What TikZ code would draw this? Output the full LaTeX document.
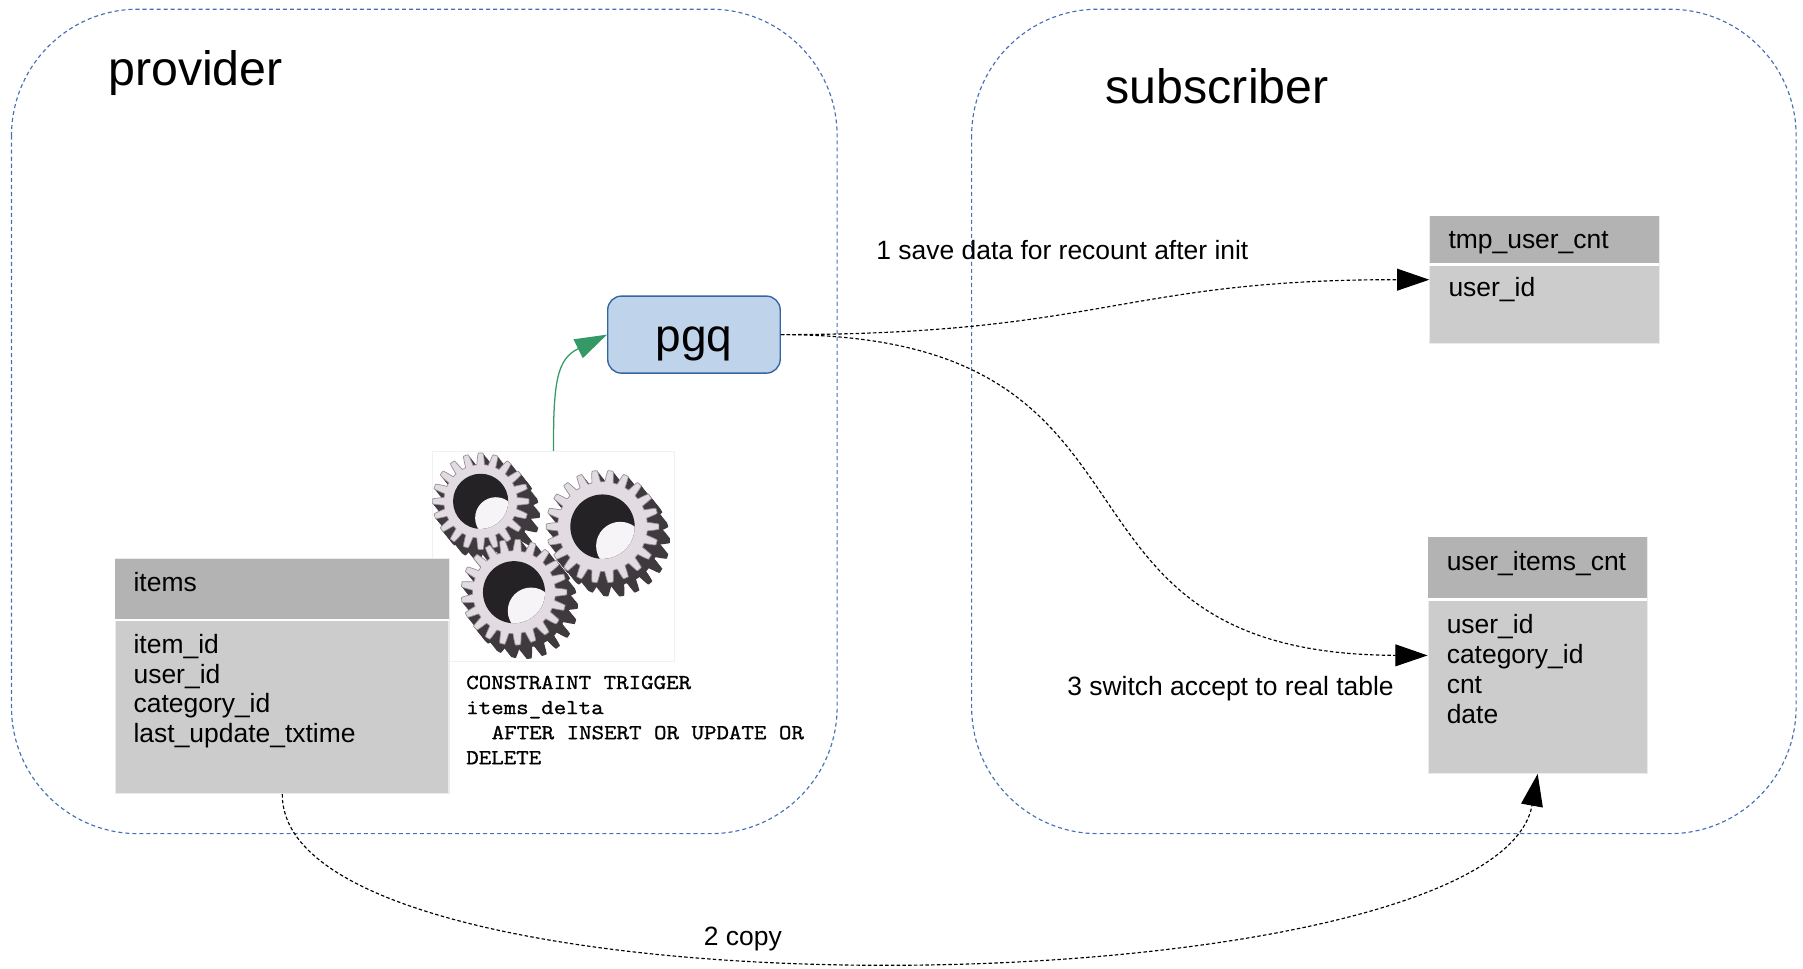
\documentclass[tikz,border=0pt]{standalone}
\usepackage{fontspec}
\setmainfont{Liberation Sans}
\newfontfamily\codefont{Latin Modern Mono}[FakeStretch=1.14,FakeBold=1.2]
\usetikzlibrary{arrows.meta}
\definecolor{boxblue}{RGB}{70,112,182}
\definecolor{pgqfill}{RGB}{191,212,234}
\definecolor{pgqline}{RGB}{52,101,164}
\definecolor{hdrgray}{RGB}{179,179,179}
\definecolor{bodygray}{RGB}{204,204,204}
\definecolor{arrgreen}{RGB}{52,153,102}
\definecolor{gearface}{RGB}{226,219,226}
\definecolor{gearedge}{RGB}{150,144,150}
\definecolor{geardark}{RGB}{62,58,62}
\definecolor{holedark}{RGB}{36,34,36}
\definecolor{holelight}{RGB}{246,244,246}
\tikzset{
  region/.style={draw=boxblue, line width=1pt, dash pattern=on 3.5pt off 2.6pt, rounded corners=110pt},
  tablebox/.style={fill=bodygray, draw=black!8, line width=1pt, inner sep=0pt, anchor=north west},
  tablehead/.style={fill=hdrgray, inner sep=0pt, anchor=north west},
  cell/.style={inner sep=0pt, anchor=base west, font=\fontsize{23}{26}\selectfont},
  bigtitle/.style={inner sep=0pt, anchor=base west, font=\fontsize{42}{50}\selectfont},
  codeline/.style={inner sep=0pt, anchor=base west, font=\codefont\fontsize{18.5}{22}\selectfont},
  flow/.style={draw=black, line width=1pt, dash pattern=on 3pt off 2pt, -{Triangle[length=28pt,width=19pt]}},
  greenflow/.style={draw=arrgreen, line width=1.1pt, -{Triangle[length=28pt,width=18pt]}, arrgreen},
}
\newcommand\drawgear[5]{%
  \foreach \k in {12,11,...,1}
    \fill[geardark, shift={(#1+\k*0.8,#2+\k*1.0)}] plot[domain=0:360,samples=541] (\x:{#3+5*max(-1,min(1,2*cos(#4*\x)))}) -- cycle;
  \filldraw[fill=gearface, draw=gearedge, line width=0.6pt, shift={(#1,#2)}] plot[domain=0:360,samples=541] (\x:{#3+5*max(-1,min(1,2*cos(#4*\x)))}) -- cycle;
  \fill[holedark] (#1,#2) circle[radius=#5];
  \begin{scope}
    \clip (#1,#2) circle[radius=#5];
    \fill[holelight] (#1+0.55*#5,#2+0.6*#5) circle[radius=0.75*#5];
  \end{scope}
}
\begin{document}
\begin{tikzpicture}[x=1pt,y=-1pt]
\useasboundingbox (0,0) rectangle (1568,842.7);

% regions
\draw[region] (10,8) rectangle (728,725);
\draw[region] (845,8) rectangle (1562,725);
\node[bigtitle] (provtitle) at (94,74) {provider};
\node[bigtitle] (subtitle) at (961.5,90) {subscriber};

% gears image
\node[draw=black!6, line width=0.8pt, minimum width=210pt, minimum height=183pt, inner sep=0pt, anchor=north west] (gears) at (376,392) {};
\drawgear{524}{458}{44}{22}{28}
\drawgear{418}{436}{37}{20}{24}
\drawgear{447}{515}{41}{21}{27}

% pgq
\node[fill=pgqfill, draw=pgqline, line width=1.2pt, rounded corners=12pt, minimum width=150pt, minimum height=67pt, inner sep=0pt, text height=29pt, text depth=0pt, font=\fontsize{40}{48}\selectfont] (pgq) at (603.5,291) {pgq};

% items table
\node[tablebox, minimum width=290pt, minimum height=204pt] (items) at (100,485.6) {};
\node[tablehead, minimum width=290pt, minimum height=53pt] (itemsH) at (100,485.6) {};
\draw[white, line width=2pt] (itemsH.south west) -- (itemsH.south east);
\node[cell] (itemsT) at (116,514.6) {items};
\node[cell] (items1) at (116,568) {item\_id};
\node[cell] (items2) at (116,594) {user\_id};
\node[cell] (items3) at (116,620) {category\_id};
\node[cell] (items4) at (116,646) {last\_update\_txtime};

% trigger text
\node[codeline] (code1) at (405.3,599.2) {CONSTRAINT TRIGGER};
\node[codeline] (code2) at (405.3,621) {items\_delta};
\node[codeline] (code3) at (427.4,642.8) {AFTER INSERT OR UPDATE OR};
\node[codeline] (code4) at (405.3,664.6) {DELETE};

% tmp_user_cnt table
\node[tablebox, minimum width=199.5pt, minimum height=110.5pt] (tmp) at (1243,187.5) {};
\node[tablehead, minimum width=199.5pt, minimum height=42pt] (tmpH) at (1243,187.5) {};
\draw[white, line width=2pt] (tmpH.south west) -- (tmpH.south east);
\node[cell] (tmpT) at (1259.5,216) {tmp\_user\_cnt};
\node[cell] (tmp1) at (1259.5,258) {user\_id};

% user_items_cnt table
\node[tablebox, minimum width=190.5pt, minimum height=205pt] (uic) at (1241.5,467) {};
\node[tablehead, minimum width=190.5pt, minimum height=54pt] (uicH) at (1241.5,467) {};
\draw[white, line width=2pt] (uicH.south west) -- (uicH.south east);
\node[cell] (uicT) at (1258,496.3) {user\_items\_cnt};
\node[cell] (uic1) at (1258,551) {user\_id};
\node[cell] (uic2) at (1258,577) {category\_id};
\node[cell] (uic3) at (1258,603) {cnt};
\node[cell] (uic4) at (1258,629) {date};

% labels
\node[cell] (lab1) at (762,226) {1 save data for recount after init};
\node[cell] (lab3) at (928,604.5) {3 switch accept to real table};
\node[cell] (lab2) at (612,822) {2 copy};

% connectors
\draw[greenflow] (gears.north) .. controls (481,330) and (485,312) .. (pgq.west);
\draw[flow] (pgq.east) .. controls (960,291) and (975,243) .. (tmp.west);
\draw[flow] (pgq.east) .. controls (1040,291) and (885,569) .. (uic.west);
\draw[flow] (items.south) .. controls (244,895) and (1300,880) .. (uic.south);
\end{tikzpicture}
\end{document}
